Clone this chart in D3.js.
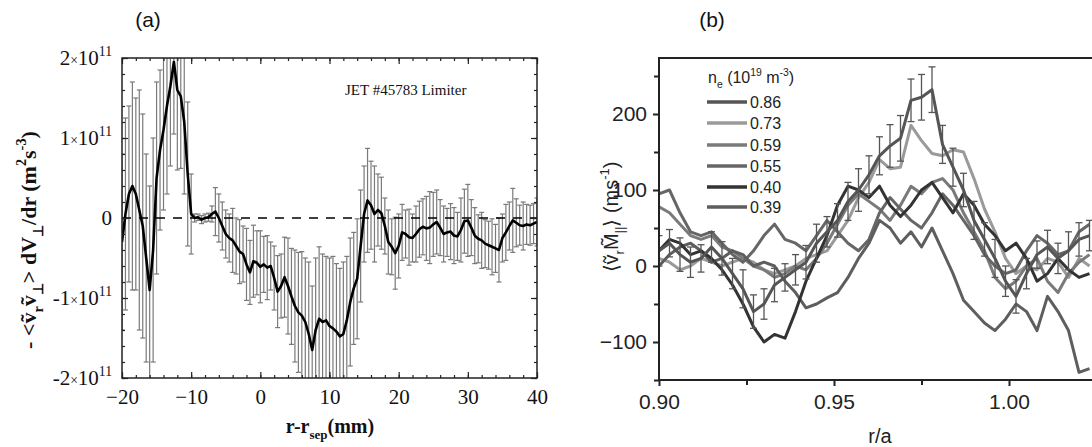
<!DOCTYPE html>
<html><head><meta charset="utf-8">
<script src="https://cdn.jsdelivr.net/npm/d3@7"></script>
<style>
html,body{margin:0;padding:0;background:#fff;}
svg{display:block;}
</style></head>
<body>
<script>
// ---------- Panel (a) data: r - r_sep (mm), value (units of 1e11 m^2 s^-3), error ----------
const aR = [-20,-19.5,-19,-18.5,-18,-17.5,-17,-16.5,-16,-15.5,-15,-14.5,-14,-13.5,-13,-12.5,-12,-11.5,-11,-10.5,
 -10,-9.5,-9,-8.5,-8,-7.5,-7,-6.5,-6,-5.5,-5,-4.5,-4,-3.5,-3,-2.5,-2,-1.5,-1,-0.5,
 0,0.5,1,1.5,2,2.5,3,3.5,4,4.5,5,5.5,6,6.5,7,7.5,8,8.5,9,9.5,
 10,10.5,11,11.5,12,12.5,13,13.5,14,14.5,15,15.5,16,16.5,17,17.5,18,18.5,19,19.5,
 20,20.5,21,21.5,22,22.5,23,23.5,24,24.5,25,25.5,26,26.5,27,27.5,28,28.5,29,29.5,
 30,30.5,31,31.5,32,32.5,33,33.5,34,34.5,35,35.5,36,36.5,37,37.5,38,38.5,39,39.5,40];
const aV = [-0.30,0.05,0.30,0.40,0.30,0.10,-0.10,-0.50,-0.90,-0.40,0.50,0.85,1.10,1.40,1.65,1.95,1.60,1.52,1.20,0.55,
 0.05,0.00,0.01,-0.02,0.00,0.01,0.05,0.08,0.00,-0.10,-0.20,-0.25,-0.28,-0.35,-0.42,-0.45,-0.58,-0.68,-0.54,-0.56,
 -0.61,-0.58,-0.62,-0.60,-0.75,-0.92,-0.85,-0.74,-0.85,-0.98,-1.10,-1.18,-1.22,-1.30,-1.45,-1.65,-1.40,-1.26,-1.30,-1.28,
 -1.35,-1.38,-1.42,-1.48,-1.45,-1.28,-1.05,-0.88,-0.76,-0.35,0.05,0.22,0.16,0.05,0.10,0.06,-0.10,-0.30,-0.36,-0.44,
 -0.35,-0.18,-0.20,-0.24,-0.25,-0.20,-0.14,-0.11,-0.13,-0.12,-0.08,-0.05,-0.12,-0.20,-0.18,-0.17,-0.22,-0.23,-0.15,-0.04,
 -0.03,-0.12,-0.22,-0.26,-0.28,-0.32,-0.34,-0.36,-0.38,-0.40,-0.25,-0.18,-0.10,-0.03,-0.06,-0.09,-0.10,-0.08,-0.09,-0.07,-0.05];
const aErr = [1.1,1.2,1.1,1.3,1.2,1.5,1.4,1.3,1.3,1.4,1.2,1.0,1.0,1.1,1.0,0.9,1.0,0.9,0.9,0.9,
 0.5,0.05,0.04,0.05,0.05,0.05,0.10,0.30,0.30,0.30,0.30,0.30,0.40,0.35,0.40,0.35,0.45,0.40,0.45,0.40,
 0.45,0.35,0.40,0.30,0.40,0.45,0.40,0.50,0.60,0.60,0.70,0.75,0.80,0.80,0.90,0.80,0.90,0.90,0.85,0.80,
 0.85,0.90,0.85,0.85,0.90,0.80,0.80,0.70,0.75,0.70,0.60,0.65,0.55,0.60,0.45,0.45,0.35,0.40,0.35,0.45,
 0.40,0.35,0.30,0.35,0.30,0.35,0.35,0.35,0.40,0.45,0.40,0.40,0.35,0.35,0.30,0.35,0.35,0.30,0.40,0.40,
 0.45,0.35,0.35,0.30,0.35,0.30,0.30,0.35,0.30,0.40,0.30,0.35,0.30,0.40,0.30,0.25,0.30,0.25,0.25,0.25,0.30];
const aYTicks = [-2,-1,0,1,2];
const aYTickMant = ["-2","-1","0","1","2"];
const aXTicks = [-20,-10,0,10,20,30,40];
const aNote = "JET #45783 Limiter";

// ---------- Panel (b) data: r/a and <v_r M_||> (m/s) ----------
const bR = [0.900,0.903,0.906,0.909,0.912,0.915,0.918,0.921,0.924,0.927,0.930,0.933,0.936,0.939,0.942,0.945,0.948,0.951,0.954,0.957,
 0.960,0.963,0.966,0.969,0.972,0.975,0.978,0.981,0.984,0.987,0.990,0.993,0.996,0.999,1.002,1.005,1.008,1.011,1.014,1.017,1.020,1.023];
const b086 = [20,30,15,5,10,25,10,-10,-30,-60,-50,-25,-15,-5,5,30,45,60,85,100,
 120,145,158,168,218,222,232,160,130,100,60,35,10,-20,-40,-10,15,25,10,20,35,40];
const b086Err = [20,18,22,20,18,20,22,20,25,22,20,22,18,20,22,25,20,22,25,28,
 25,25,28,30,28,30,30,25,25,22,25,22,25,20,22,20,18,22,20,25,22,20];
const b073 = [10,5,-5,0,10,5,0,5,10,5,-5,-10,-5,0,10,15,20,40,60,90,
 110,140,128,130,185,165,148,145,153,150,115,75,45,10,-10,0,-5,10,5,-15,10,0];
const b059 = [78,70,55,40,35,40,25,20,10,0,-5,-15,-10,0,-5,10,30,55,80,95,
 85,75,60,80,105,95,110,115,100,70,45,20,-15,-30,-20,0,10,-20,-35,-10,5,15];
const b055 = [95,100,70,45,40,45,30,15,5,20,40,55,35,30,20,40,60,45,30,20,
 35,70,90,75,60,50,70,95,80,60,40,15,0,-10,-5,20,40,30,15,20,45,55];
const b040 = [20,35,30,15,20,10,-5,-25,-50,-80,-100,-90,-95,-60,-20,10,40,80,105,100,
 90,105,80,65,80,100,110,90,70,95,80,55,40,20,30,10,-20,-10,10,-5,-15,-10];
const b039 = [0,15,25,30,20,5,10,20,15,0,5,0,-20,-35,-55,-50,-42,-35,-15,10,
 30,60,50,30,45,25,50,20,-10,-45,-60,-75,-85,-70,-50,-60,-85,-40,-60,-85,-140,-135];
const bLegendLabels = ["0.86","0.73","0.59","0.55","0.40","0.39"];
const bYTicks = [-100,0,100,200];
const bXTicks = [0.90,0.95,1.00];

// ---------- styles ----------
const serif = "'Liberation Serif','Times New Roman',serif";
const sans = "'Liberation Sans',Arial,Helvetica,sans-serif";
const bColors = ["#555","#9a9a9a","#7a7a7a","#666","#333","#5e5e5e"];

const W = 1092, H = 447;
const svg = d3.select("body").append("svg").attr("width", W).attr("height", H);

function rich(textSel, parts, baseSize) {
  let shift = 0;
  parts.forEach(p => {
    const ts = textSel.append("tspan").text(p.t);
    let target = 0, size = baseSize;
    if (p.s === "sub") { target = 0.3 * baseSize; size = baseSize * 0.65; }
    if (p.s === "sup") { target = -0.45 * baseSize; size = baseSize * 0.65; }
    if (p.s === "small") { size = baseSize * 0.65; }
    ts.attr("dy", target - shift).style("font-size", size + "px");
    shift = target;
  });
}

// ================= Panel (a) =================
const xA = d3.scaleLinear().domain([-20, 40]).range([122, 537]);
const yA = d3.scaleLinear().domain([-2, 2]).range([378, 58]);
const gA = svg.append("g");
gA.append("clipPath").attr("id", "clipA").append("rect")
  .attr("x", 122).attr("y", 58).attr("width", 415).attr("height", 320);

const plotA = gA.append("g").attr("clip-path", "url(#clipA)");
const eb = plotA.append("g").attr("stroke", "#7a7a7a").attr("stroke-width", 1.2);
aR.forEach((r, i) => {
  const x = xA(r), y1 = yA(aV[i] - aErr[i]), y2 = yA(aV[i] + aErr[i]);
  eb.append("line").attr("x1", x).attr("x2", x).attr("y1", y1).attr("y2", y2);
  eb.append("line").attr("x1", x - 2.5).attr("x2", x + 2.5).attr("y1", y1).attr("y2", y1);
  eb.append("line").attr("x1", x - 2.5).attr("x2", x + 2.5).attr("y1", y2).attr("y2", y2);
});
plotA.append("line").attr("x1", 122).attr("x2", 537).attr("y1", yA(0)).attr("y2", yA(0))
  .attr("stroke", "#000").attr("stroke-width", 1.3).attr("stroke-dasharray", "9,8");
plotA.append("path").datum(aR.map((r, i) => [r, aV[i]]))
  .attr("fill", "none").attr("stroke", "#000").attr("stroke-width", 2.6).attr("stroke-linejoin", "round")
  .attr("d", d3.line().x(d => xA(d[0])).y(d => yA(d[1])));

gA.append("rect").attr("x", 122).attr("y", 58).attr("width", 415).attr("height", 320)
  .attr("fill", "none").attr("stroke", "#222").attr("stroke-width", 1.5);

function styleAxis(g) { g.select(".domain").remove(); g.selectAll("line").attr("stroke", "#222").attr("stroke-width", 1.2); }
const xMinA = d3.range(-20, 40.01, 2);
const yMinA = d3.range(-2, 2.01, 0.2);
gA.append("g").attr("transform", "translate(0,378)")
  .call(d3.axisBottom(xA).tickValues(xMinA).tickSize(-3).tickFormat("")).call(styleAxis);
gA.append("g").attr("transform", "translate(0,378)")
  .call(d3.axisBottom(xA).tickValues(aXTicks).tickSize(-6).tickPadding(11).tickFormat(d3.format("d")))
  .call(styleAxis)
  .call(g => g.selectAll("text").attr("fill", "#111").style("font-family", serif).style("font-size", "21px"));
gA.append("g").attr("transform", "translate(0,58)")
  .call(d3.axisTop(xA).tickValues(xMinA).tickSize(-3).tickFormat("")).call(styleAxis);
gA.append("g").attr("transform", "translate(0,58)")
  .call(d3.axisTop(xA).tickValues(aXTicks).tickSize(-6).tickFormat("")).call(styleAxis);
gA.append("g").attr("transform", "translate(122,0)")
  .call(d3.axisLeft(yA).tickValues(yMinA).tickSize(-3).tickFormat("")).call(styleAxis);
gA.append("g").attr("transform", "translate(122,0)")
  .call(d3.axisLeft(yA).tickValues(aYTicks).tickSize(-6).tickFormat("")).call(styleAxis);
gA.append("g").attr("transform", "translate(537,0)")
  .call(d3.axisRight(yA).tickValues(yMinA).tickSize(-3).tickFormat("")).call(styleAxis);
gA.append("g").attr("transform", "translate(537,0)")
  .call(d3.axisRight(yA).tickValues(aYTicks).tickSize(-6).tickFormat("")).call(styleAxis);

aYTicks.forEach((v, i) => {
  const t = gA.append("text").attr("x", 112).attr("y", yA(v) + 7)
    .attr("text-anchor", "end").attr("fill", "#111")
    .style("font-family", serif).style("font-size", "21px");
  if (v === 0) { t.text("0"); return; }
  rich(t, [{t: aYTickMant[i]}, {t: "×", s: "small"}, {t: "10"}, {t: "11", s: "sup"}], 21);
});

gA.append("text").attr("x", 345).attr("y", 95).text(aNote)
  .style("font-family", serif).style("font-size", "15px").attr("fill", "#111");

const xlabA = gA.append("text").attr("x", 330).attr("y", 433).attr("text-anchor", "middle")
  .style("font-family", serif).style("font-weight", "bold").attr("fill", "#111");
rich(xlabA, [{t: "r-r"}, {t: "sep", s: "sub"}, {t: "(mm)"}], 20);

const ylabA = gA.append("text").attr("transform", "translate(36,240) rotate(-90)").attr("text-anchor", "middle")
  .style("font-family", serif).style("font-weight", "bold").attr("fill", "#111");
rich(ylabA, [{t: "- <v\u0303"}, {t: "r", s: "sub"}, {t: "v\u0303"}, {t: "\u22A5", s: "sub"}, {t: "> dV"}, {t: "\u22A5", s: "sub"},
  {t: "/dr (m"}, {t: "2", s: "sup"}, {t: "s"}, {t: "-3", s: "sup"}, {t: ")"}], 22);

svg.append("text").attr("x", 148).attr("y", 27).attr("text-anchor", "middle").text("(a)")
  .style("font-family", sans).style("font-size", "21px").attr("fill", "#111");

// ================= Panel (b) =================
const xB = d3.scaleLinear().domain([0.9, 1.025]).range([659, 659 + 0.125 * 3500]);
const yB = d3.scaleLinear().domain([-150, 275]).range([380, 57]);
const gB = svg.append("g");
gB.append("clipPath").attr("id", "clipB").append("rect")
  .attr("x", 659).attr("y", 58).attr("width", 440).attr("height", 322);
const plotB = gB.append("g").attr("clip-path", "url(#clipB)");

const seriesB = [b086, b073, b059, b055, b040, b039];
const lineB = d3.line().x(d => xB(d[0])).y(d => yB(d[1]));
[1, 2, 3, 5, 4, 0].forEach(k => {
  plotB.append("path").datum(bR.map((r, i) => [r, seriesB[k][i]]))
    .attr("fill", "none").attr("stroke", bColors[k]).attr("stroke-width", 3).attr("stroke-linejoin", "round")
    .attr("d", lineB);
});
const ebB = plotB.append("g").attr("stroke", "#555").attr("stroke-width", 1.3);
bR.forEach((r, i) => {
  const x = xB(r), y1 = yB(b086[i] - b086Err[i]), y2 = yB(b086[i] + b086Err[i]);
  ebB.append("line").attr("x1", x).attr("x2", x).attr("y1", y1).attr("y2", y2);
  ebB.append("line").attr("x1", x - 3.5).attr("x2", x + 3.5).attr("y1", y1).attr("y2", y1);
  ebB.append("line").attr("x1", x - 3.5).attr("x2", x + 3.5).attr("y1", y2).attr("y2", y2);
});

function styleAxisB(g) { g.select(".domain").remove(); g.selectAll("line").attr("stroke", "#222").attr("stroke-width", 2); }
gB.append("line").attr("x1", 659).attr("x2", 659).attr("y1", 57).attr("y2", 380).attr("stroke", "#222").attr("stroke-width", 2);
gB.append("line").attr("x1", 658).attr("x2", W).attr("y1", 380).attr("y2", 380).attr("stroke", "#222").attr("stroke-width", 2);
gB.append("line").attr("x1", 658).attr("x2", W).attr("y1", 58).attr("y2", 58).attr("stroke", "#222").attr("stroke-width", 2);

gB.append("g").attr("transform", "translate(659,0)")
  .call(d3.axisLeft(yB).tickValues([-150, -50, 50, 150, 250]).tickSize(5).tickFormat("")).call(styleAxisB);
gB.append("g").attr("transform", "translate(659,0)")
  .call(d3.axisLeft(yB).tickValues(bYTicks).tickSize(6).tickPadding(6).tickFormat(d3.format("d")))
  .call(styleAxisB)
  .call(g => g.selectAll("text").attr("fill", "#222").style("font-family", sans).style("font-size", "21px"));
gB.append("g").attr("transform", "translate(0,380)")
  .call(d3.axisBottom(xB).tickValues([0.925, 0.975]).tickSize(5).tickFormat("")).call(styleAxisB);
gB.append("g").attr("transform", "translate(0,380)")
  .call(d3.axisBottom(xB).tickValues(bXTicks).tickSize(6).tickPadding(8).tickFormat(d3.format(".2f")))
  .call(styleAxisB)
  .call(g => g.selectAll("text").attr("fill", "#222").style("font-family", sans).style("font-size", "21px"));

gB.append("text").attr("x", 880).attr("y", 443).attr("text-anchor", "middle").text("r/a")
  .style("font-family", sans).style("font-size", "20px").attr("fill", "#222");

const ylabB = gB.append("text").attr("transform", "translate(618,217) rotate(-90)").attr("text-anchor", "middle")
  .style("font-family", sans).attr("fill", "#222");
rich(ylabB, [{t: "\u27E8v\u0303"}, {t: "r", s: "sub"}, {t: "M\u0303"}, {t: "||", s: "sub"}, {t: "\u27E9 (ms"}, {t: "-1", s: "sup"}, {t: ")"}], 20);

const legT = gB.append("text").attr("x", 708).attr("y", 83).style("font-family", sans).attr("fill", "#222");
rich(legT, [{t: "n"}, {t: "e", s: "sub"}, {t: " (10"}, {t: "19", s: "sup"}, {t: " m"}, {t: "-3", s: "sup"}, {t: ")"}], 16);
const legY = [102, 123, 145, 166, 187, 207];
bLegendLabels.forEach((lab, k) => {
  gB.append("line").attr("x1", 707).attr("x2", 747).attr("y1", legY[k]).attr("y2", legY[k])
    .attr("stroke", bColors[k]).attr("stroke-width", 3.5);
  gB.append("text").attr("x", 750).attr("y", legY[k] + 6).text(lab)
    .style("font-family", sans).style("font-size", "16px").attr("fill", "#222");
});

svg.append("text").attr("x", 712).attr("y", 27).attr("text-anchor", "middle").text("(b)")
  .style("font-family", sans).style("font-size", "21px").attr("fill", "#111");
</script>
</body></html>
